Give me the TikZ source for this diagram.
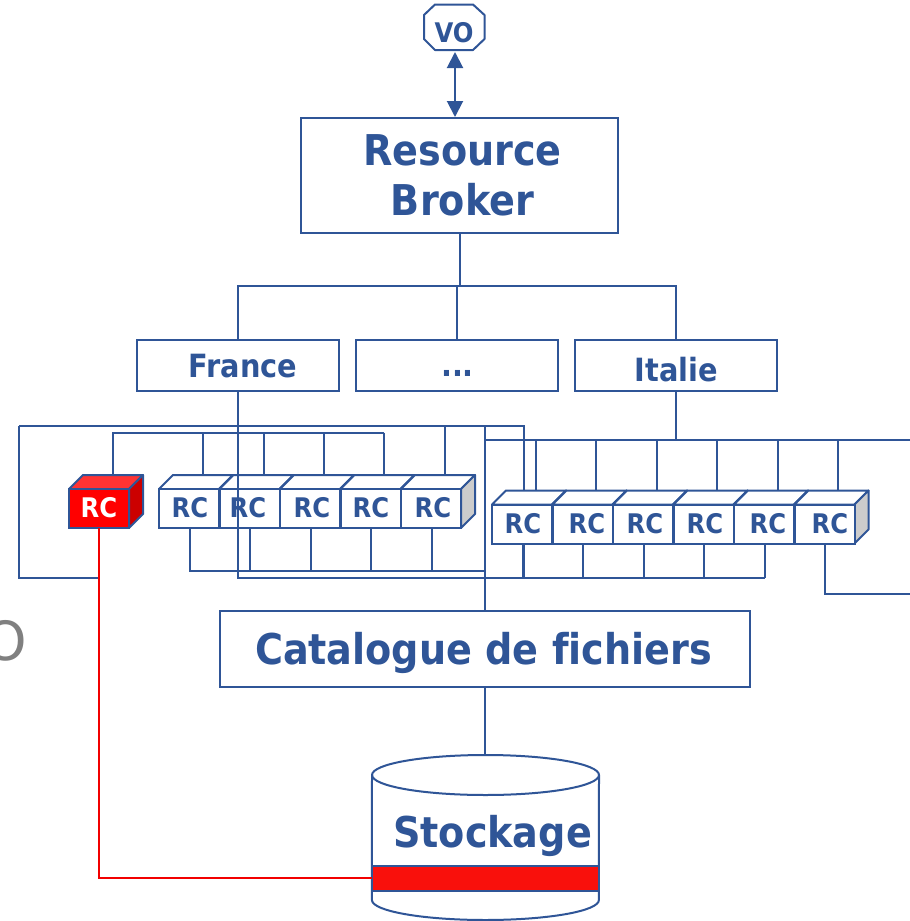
\documentclass[tikz,border=0pt]{standalone}
\usepackage{fontspec}
\setmainfont[Ligatures=NoCommon]{DejaVu Sans Condensed}
\newfontfamily\plainO{DejaVu Sans}
\usetikzlibrary{arrows.meta}
\definecolor{bl}{HTML}{2F5597}
\definecolor{rd}{HTML}{F9100C}
\tikzset{
  wire/.style={draw=bl,line width=2pt},
  redwire/.style={draw=red!95!black,line width=2pt},
  boxed/.style={draw=bl,line width=2pt,fill=white,rectangle,inner sep=0pt,outer sep=0pt,anchor=north west},
  big/.style={text=bl,font=\fontsize{42.4}{50}\selectfont\bfseries,inner sep=0pt,align=center},
  mid/.style={text=bl,font=\fontsize{32}{34}\selectfont\bfseries,inner sep=0pt},
  rclabel/.style={text=bl,font=\fontsize{27}{28}\selectfont\bfseries,inner sep=0pt},
  rcred/.style={text=white,font=\fontsize{27}{28}\selectfont\bfseries,inner sep=0pt},
  cubefront/.style={boxed,minimum width=60pt,minimum height=39pt},
}
% name, left x, top y, front fill, top fill, side fill, label x, label y, label style
\newcommand{\rccube}[9]{%
  \filldraw[draw=bl,line width=2pt,fill=#5,line join=round] (#2,#3) -- ++(14,-14) -- ++(60,0) -- ++(-14,14) -- cycle;
  \filldraw[draw=bl,line width=2pt,fill=#6,line join=round] (#2+60,#3) -- ++(14,-14) -- ++(0,39) -- ++(-14,14) -- cycle;
  \node[cubefront,fill=#4] (#1) at (#2,#3) {};
  \coordinate (#1-t) at (#2+44,#3-14);
  \node[#9] (#1-l) at (#7,#8) {RC};
}
\begin{document}
\begin{tikzpicture}[x=1pt,y=-1pt]
\useasboundingbox (0,0) rectangle (910,921);
\node[text=gray,font=\plainO\fontsize{54}{60}\selectfont,inner sep=0pt] (oh) at (6,641) {O};

% top part
\coordinate (voport) at (455,52);
\draw[wire,line join=round] (435,4.5) -- (473,4.5) -- (484.5,15) -- (484.5,39) -- (473,50) -- (435,50) -- (424,39) -- (424,15) -- cycle;
\node[text=bl,font=\fontsize{27}{28}\selectfont\bfseries,inner sep=0pt] (volab) at (454,32.5) {VO};
\node[boxed,minimum width=317pt,minimum height=115pt] (rb) at (301,118) {};
\node[big] (rblab) at (462.5,175.5) {Resource\\Broker};
\node[boxed,minimum width=202pt,minimum height=51pt] (fr) at (137,339.5) {};
\node[mid] (frlab) at (243,366) {France};
\node[boxed,minimum width=202pt,minimum height=51pt] (dots) at (356,339.5) {};
\node[mid] (dotslab) at (457.5,373) {...};
\node[boxed,minimum width=202pt,minimum height=51pt] (it) at (575,339.5) {};
\node[mid] (itlab) at (676.5,370) {Italie};
\coordinate (rbport) at (455,117);
\coordinate (rbdrop) at (459.5,233);
\coordinate (split) at (459.5,286);
\draw[wire,{Triangle[width=16pt,length=16pt]}-{Triangle[width=16pt,length=16pt]}] (voport) -- (rbport);
\draw[wire] (rbdrop) -- (split);
\draw[wire] (fr.north) -- (fr.north |- split) -- (it.north |- split) -- (it.north);
\draw[wire] (dots.north) -- (dots.north |- split);

% catalogue and storage
\node[boxed,minimum width=530pt,minimum height=76pt] (cat) at (220,611) {};
\node[big] (catlab) at (483.5,652.5) {Catalogue de fichiers};
\coordinate (stocktop) at (485,755);
\draw[wire] (cat.south -| stocktop) -- (stocktop);
\draw[draw=bl,line width=2pt,fill=white] (372,775) arc[x radius=113.5,y radius=20,start angle=180,end angle=360] -- (598.9,900) arc[x radius=113.5,y radius=20,start angle=0,end angle=180] -- cycle;
\draw[draw=bl,line width=2pt] (372,775) arc[x radius=113.5,y radius=20,start angle=180,end angle=0];
\node[big] (stlab) at (492.5,836) {Stockage};
\node[boxed,fill=rd,minimum width=227pt,minimum height=25pt] (strip) at (372,865.5) {};

% bus coordinates
\coordinate (oTL) at (19,425.5);
\coordinate (oBL) at (19,578);
\coordinate (oTR) at (524,425.5);
\coordinate (oBR) at (524,578);
\coordinate (ltop) at (112,432.5);
\coordinate (lbot) at (189,570.5);
\coordinate (vcat) at (485,425.5);
\coordinate (rtopR) at (910,440);
\coordinate (rbotR) at (765,578);
\coordinate (exitR) at (910,593.5);

% wires behind the cubes
\draw[wire] (oTL) -- (oBL) -- (99,578);
\draw[wire] (oTL) -- (oTR) -- (oBR);
\draw[wire] (vcat |- rtopR) -- (rtopR);
\draw[wire] (445,425.5) -- (445,475);
\draw[wire] (ltop) -- (384,432.5);
\foreach \px in {202.5,263.5,323.5,384}{\draw[wire] (\px,432.5) -- (\px,475);}
\draw[wire] (112.5,432.5) -- (112.5,475);
\foreach \px in {189.5,250,310.5,371,432}{\draw[wire] (\px,528) -- (\px,570.5);}
\draw[wire] (lbot) -- (vcat |- lbot);
\foreach \px in {535.5,596,657,717,778,838}{\draw[wire] (\px,440) -- (\px,490);}
\foreach \px in {522.5,583,643.5,704,764.5}{\draw[wire] (\px,544) -- (\px,578);}
\draw[wire] (825,544) -- (825,593.5) -- (exitR);

% cubes
\rccube{c0}{69}{489}{red}{red!80!white}{red!80!black}{99}{507.5}{rcred}
\rccube{a1}{159}{489}{white}{white}{white}{190}{507.5}{rclabel}
\rccube{a2}{219.5}{489}{white}{white}{white}{248}{507.5}{rclabel}
\rccube{a3}{280}{489}{white}{white}{white}{312}{507.5}{rclabel}
\rccube{a4}{340.5}{489}{white}{white}{white}{371}{507.5}{rclabel}
\rccube{a5}{401}{489}{white}{white}{black!20}{433}{507.5}{rclabel}
\rccube{b1}{492}{504.5}{white}{white}{white}{523}{523.5}{rclabel}
\rccube{b2}{552.5}{504.5}{white}{white}{white}{587}{523.5}{rclabel}
\rccube{b3}{613}{504.5}{white}{white}{white}{645}{523.5}{rclabel}
\rccube{b4}{673.5}{504.5}{white}{white}{white}{705}{523.5}{rclabel}
\rccube{b5}{734}{504.5}{white}{white}{white}{768}{523.5}{rclabel}
\rccube{b6}{794.5}{504.5}{white}{white}{black!20}{830}{523.5}{rclabel}

% wires over the cubes
\draw[wire] (fr.south) -- (fr.south |- rbotR) -- (rbotR);
\draw[wire] (it.south) -- (it.south |- rtopR);
\draw[wire] (vcat) -- (vcat |- cat.north);
\draw[wire] (c0.south) -- (c0.south |- oBL);
\draw[redwire] (c0.south) |- (strip.west);
\end{tikzpicture}
\end{document}
